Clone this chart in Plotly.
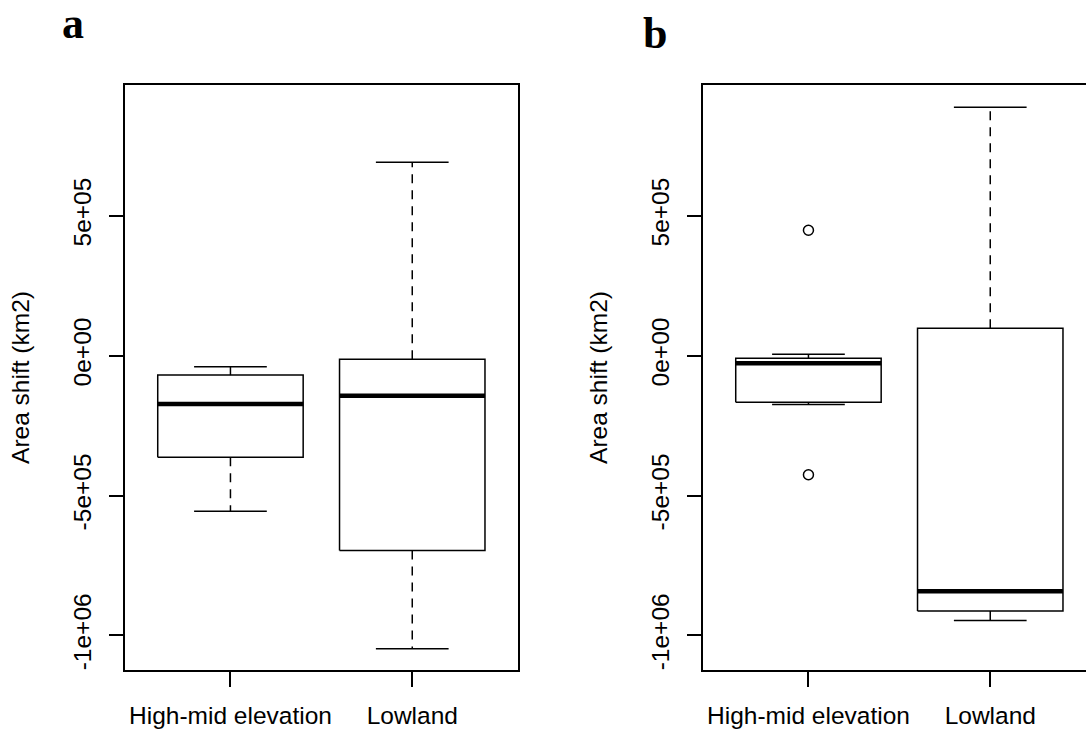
import plotly.graph_objects as go

W, H = 1086, 729

categories = ["High-mid elevation", "Lowland"]

# Box statistics: lower whisker, Q1, median, Q3, upper whisker
a_high = [-556000, -363300, -173100, -69600, -40000]
a_low = [-1047500, -696600, -143500, -12500, 690600]
b_high = [-174200, -167000, -27500, -8900, 5400]
b_low = [-946500, -912900, -841500, 98100, 888000]

a_outliers = [[], []]
b_outliers = [[447900, -425400], []]

ytick_vals = [-1000000, -500000, 0, 500000]
ytick_text = ["-1e+06", "-5e+05", "0e+00", "5e+05"]

y_title = "Area shift (km2)"
panel_labels = ["a", "b"]

FONT = "Liberation Sans, Arial, sans-serif"
FS = 24.5
LW = 1.5
BOX_HALF = 0.4
CAP_HALF = 0.2

all_vals = a_high + a_low + b_high + b_low + [v for o in a_outliers + b_outliers for v in o]
ymin, ymax = min(all_vals), max(all_vals)
pad = 0.04 * (ymax - ymin)
yrange = [ymin - pad, ymax + pad]
xr_full = [0.42, 2.58]

fig = go.Figure()


def add_box(i, st, outl, xa, ya):
    lo, q1, med, q3, hi = st
    fig.add_trace(go.Scatter(
        x=[i - BOX_HALF, i + BOX_HALF, i + BOX_HALF, i - BOX_HALF, i - BOX_HALF],
        y=[q1, q1, q3, q3, q1], mode="lines",
        line=dict(color="black", width=LW), xaxis=xa, yaxis=ya,
        showlegend=False, hoverinfo="skip"))
    fig.add_trace(go.Scatter(
        x=[i, i, None, i, i], y=[q3, hi, None, q1, lo], mode="lines",
        line=dict(color="black", width=LW, dash="9px,7px"), xaxis=xa, yaxis=ya,
        showlegend=False, hoverinfo="skip"))
    fig.add_trace(go.Scatter(
        x=[i - CAP_HALF, i + CAP_HALF, None, i - CAP_HALF, i + CAP_HALF],
        y=[hi, hi, None, lo, lo], mode="lines",
        line=dict(color="black", width=LW), xaxis=xa, yaxis=ya,
        showlegend=False, hoverinfo="skip"))
    fig.add_trace(go.Scatter(
        x=[i - BOX_HALF, i + BOX_HALF], y=[med, med], mode="lines",
        line=dict(color="black", width=4.5), xaxis=xa, yaxis=ya,
        showlegend=False, hoverinfo="skip"))
    if outl:
        fig.add_trace(go.Scatter(
            x=[i] * len(outl), y=outl, mode="markers",
            marker=dict(symbol="circle-open", size=10, color="black",
                        line=dict(width=LW, color="black")),
            xaxis=xa, yaxis=ya, showlegend=False, hoverinfo="skip"))


for k, (st, outl) in enumerate([(a_high, a_outliers[0]), (a_low, a_outliers[1])]):
    add_box(k + 1, st, outl, "x", "y")
for k, (st, outl) in enumerate([(b_high, b_outliers[0]), (b_low, b_outliers[1])]):
    add_box(k + 1, st, outl, "x2", "y2")

# pixel layout
a_left, a_right = 125, 517.7
b_left = 703
px_per_unit = (a_right - a_left) / (xr_full[1] - xr_full[0])
b_right = W
b_xmax = xr_full[0] + (b_right - b_left) / px_per_unit
top_px, bot_px = 85.7, 672.3
ydom = [1 - bot_px / H, 1 - top_px / H]

xcommon = dict(tickmode="array", tickvals=[1, 2], ticktext=categories,
               ticks="outside", ticklen=15, tickwidth=LW, tickcolor="black",
               showline=True, linecolor="black", linewidth=LW, mirror=True,
               showgrid=False, zeroline=False, ticklabelstandoff=7,
               tickfont=dict(family=FONT, size=FS, color="black"))
ycommon = dict(tickmode="array", tickvals=ytick_vals, ticktext=ytick_text,
               ticks="outside", ticklen=14, tickwidth=LW, tickcolor="black",
               showline=True, linecolor="black", linewidth=LW,
               showgrid=False, zeroline=False, tickangle=-90, range=yrange,
               ticklabelstandoff=8,
               tickfont=dict(family=FONT, size=FS, color="black"))

LAB_FS = 44
annotations = []
for lab, cx, base in [(panel_labels[0], 73, 40.3), (panel_labels[1], 655.3, 50.3)]:
    cy = base - 0.372 * LAB_FS
    annotations.append(dict(text="<b>" + lab + "</b>", xref="paper", yref="paper",
                            x=cx / W, y=1 - cy / H, xanchor="center", yanchor="middle",
                            showarrow=False, borderpad=0,
                            font=dict(family="Liberation Serif, Times New Roman, serif",
                                      size=LAB_FS, color="black")))
for cx in [21.0, 21.0 + (b_left - a_left)]:
    annotations.append(dict(text=y_title, xref="paper", yref="paper",
                            x=cx / W, y=1 - ((top_px + bot_px) / 2) / H,
                            xanchor="center", yanchor="middle", textangle=-90,
                            showarrow=False,
                            font=dict(family=FONT, size=FS, color="black")))

fig.update_layout(
    width=W, height=H,
    margin=dict(l=0, r=0, t=0, b=0),
    paper_bgcolor="white", plot_bgcolor="white",
    showlegend=False,
    xaxis=dict(domain=[a_left / W, a_right / W], range=xr_full, anchor="y", **xcommon),
    yaxis=dict(domain=ydom, anchor="x", mirror=True, **ycommon),
    xaxis2=dict(domain=[b_left / W, 1.0], range=[xr_full[0], b_xmax], anchor="y2", **xcommon),
    yaxis2=dict(domain=ydom, anchor="x2", mirror=False, **ycommon),
    annotations=annotations,
)

fig.write_html("out.html",
               config={"displayModeBar": False},
               post_script="document.body.style.margin='0px';document.body.style.overflow='hidden';")
